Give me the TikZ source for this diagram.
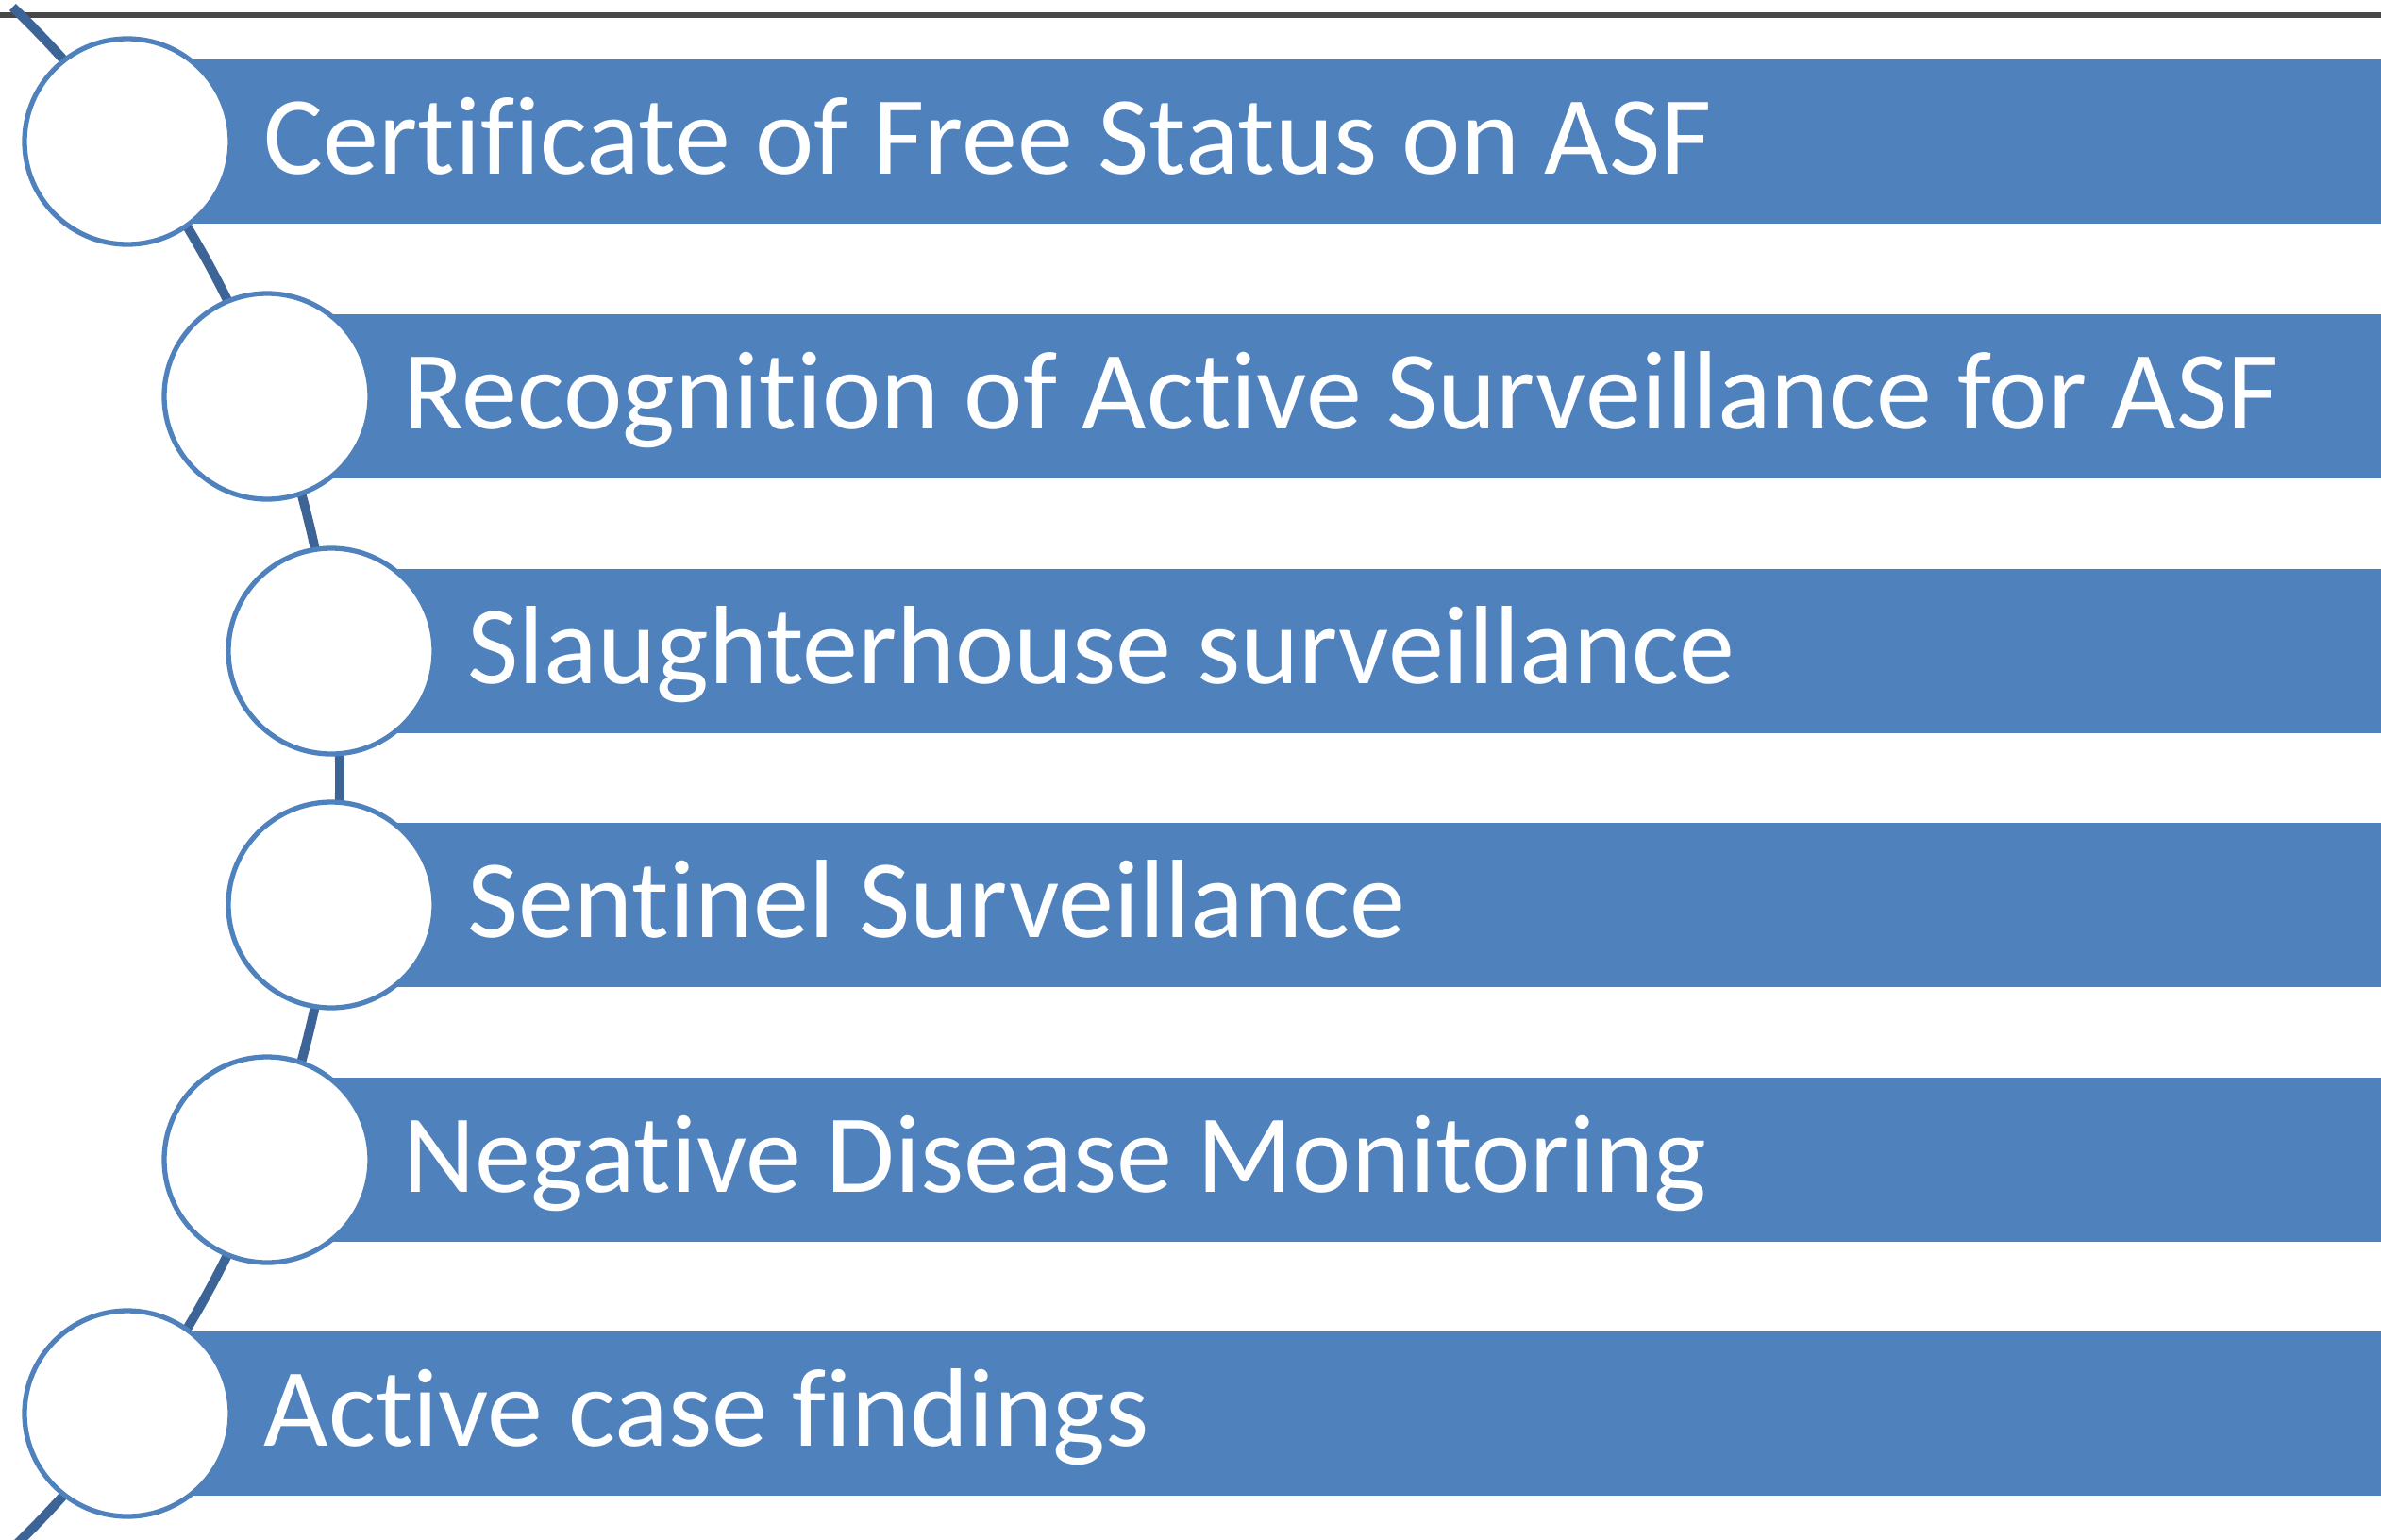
\documentclass[tikz,border=0pt]{standalone}
\usepackage{fontspec}
\setmainfont{Carlito}[Ligatures=NoCommon]
\definecolor{barblue}{HTML}{4F81BD}
\definecolor{arcblue}{HTML}{3C6496}
\definecolor{rulegray}{HTML}{474747}

\begin{document}
\begin{tikzpicture}[every node/.style={font=\fontsize{33.6}{40}\selectfont},
    hole/.style={circle, draw=barblue, fill=white, line width=1.5pt, minimum size=2.18cm, inner sep=0pt},
    itemtext/.style={text=white, anchor=base west, inner sep=0pt}]

    \useasboundingbox (0,0) rectangle (25.23,-16.31);
    \clip (0,0) rectangle (25.23,-16.31);

    % top rule
    \draw[rulegray, line width=1.5pt] (0,-0.16) -- (25.23,-0.16);

    % arc through the circles
    \coordinate (hub) at (-7.75,-8.24);
    \draw[arcblue, line width=2.8pt] (hub) ++(46:11.35cm) arc[start angle=46, end angle=-47, radius=11.35cm];

    % Certificate
    \fill[barblue] (1.35,-0.63) rectangle (25.23,-2.37);
    \node[hole] (c1) at (1.35,-1.50) {};
    \node[itemtext] (t1) at (2.79,-1.84) {Certificate of Free Status on ASF};

    % Recognition
    \fill[barblue] (2.83,-3.33) rectangle (25.23,-5.07);
    \node[hole] (c2) at (2.83,-4.20) {};
    \node[itemtext] (t2) at (4.27,-4.54) {Recognition of Active Surveillance for ASF};

    % Slaughterhouse
    \fill[barblue] (3.51,-6.03) rectangle (25.23,-7.77);
    \node[hole] (c3) at (3.51,-6.90) {};
    \node[itemtext] (t3) at (4.95,-7.24) {Slaughterhouse surveillance};

    % Sentinel
    \fill[barblue] (3.51,-8.72) rectangle (25.23,-10.46);
    \node[hole] (c4) at (3.51,-9.59) {};
    \node[itemtext] (t4) at (4.95,-9.93) {Sentinel Surveillance};

    % Negative
    \fill[barblue] (2.83,-11.42) rectangle (25.23,-13.16);
    \node[hole] (c5) at (2.83,-12.29) {};
    \node[itemtext] (t5) at (4.27,-12.63) {Negative Disease Monitoring};

    % Active
    \fill[barblue] (1.35,-14.11) rectangle (25.23,-15.85);
    \node[hole] (c6) at (1.35,-14.98) {};
    \node[itemtext] (t6) at (2.79,-15.32) {Active case findings};

\end{tikzpicture}
\end{document}
